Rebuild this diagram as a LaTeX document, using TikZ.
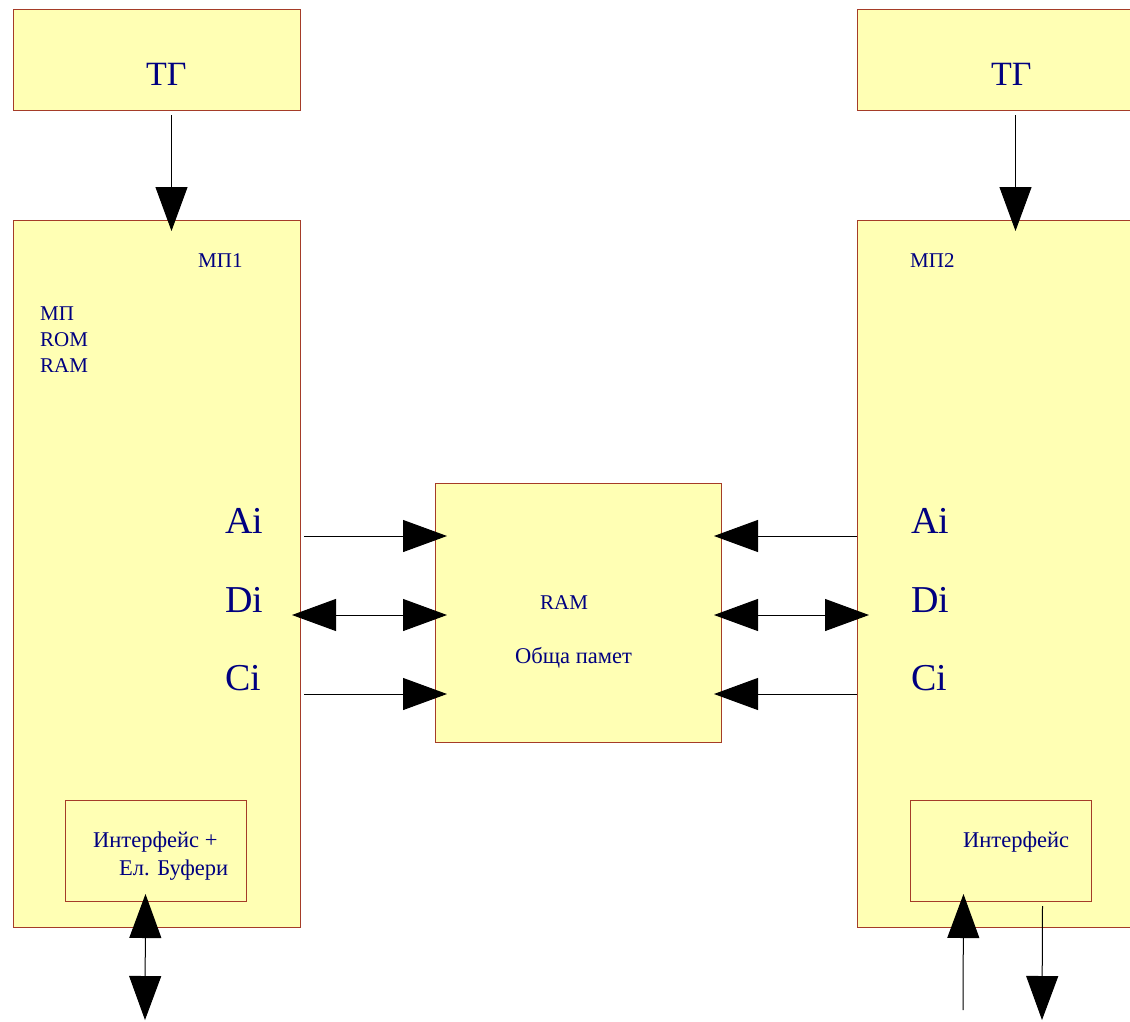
\documentclass[tikz,border=0pt]{standalone}
\usepackage{fontspec}
\setmainfont{Liberation Serif}
\usetikzlibrary{arrows.meta,calc}
\definecolor{boxfill}{RGB}{255,255,180}
\definecolor{boxline}{RGB}{165,60,40}
\definecolor{labelblue}{RGB}{0,0,128}

\begin{document}
\begin{tikzpicture}[x=1pt,y=-1pt,
  blk/.style={draw=boxline, fill=boxfill, line width=1pt, inner sep=0pt, anchor=north west},
  lbl/.style={text=labelblue, inner sep=0pt, anchor=base west, font=\fontsize{21}{25}\selectfont},
  cyrlbl/.style={lbl, font=\fontsize{22.5}{26}\selectfont},
  biglbl/.style={lbl, font=\fontsize{38}{40}\selectfont},
  tglbl/.style={lbl, font=\fontsize{34}{40}\selectfont},
  link/.style={line width=1pt, draw=black},
  >={Triangle[length=44pt,width=32pt]}
]
\useasboundingbox (0,0) rectangle (1130,1021);
\clip (0,0) rectangle (1130,1021);

% blocks
\node[blk, minimum width=287, minimum height=101] (tg1) at (13,9) {};
\node[blk, minimum width=310, minimum height=101] (tg2) at (857,9) {};
\node[blk, minimum width=287, minimum height=707] (mp1) at (13,220) {};
\node[blk, minimum width=310, minimum height=707] (mp2) at (857,220) {};
\node[blk, minimum width=286, minimum height=259] (ram) at (435,483) {};
\node[blk, minimum width=181, minimum height=101] (if1) at (65,800) {};
\node[blk, minimum width=181, minimum height=101] (if2) at (910,800) {};

% labels
\node[tglbl] (tg1txt) at (146,85) {ТГ};
\node[tglbl] (tg2txt) at (991,85) {ТГ};
\node[lbl] (mp1txt) at (198,267) {МП1};
\node[lbl] (mp2txt) at (910,267) {МП2};
\node[lbl] (mptxt)  at (40,320) {МП};
\node[lbl] (romtxt) at (40,346) {ROM};
\node[lbl] (ramtxt) at (40,372) {RAM};
\node[biglbl] (ai1) at (225,533) {Ai};
\node[biglbl] (di1) at (225,612) {Di};
\node[biglbl] (ci1) at (225,690) {Ci};
\node[biglbl] (ai2) at (911,533) {Ai};
\node[biglbl] (di2) at (911,612) {Di};
\node[biglbl] (ci2) at (911,690) {Ci};
\node[lbl] (ramname) at (540,609) {RAM};
\node[cyrlbl] (ramdesc) at (515,663) {Обща памет};
\node[cyrlbl] (if1a) at (93,847) {Интерфейс +};
\node[cyrlbl] (if1b) at (119,875) {Ел. Буфери};
\node[cyrlbl] (if2txt) at (963,847) {Интерфейс};

% bus rows
\coordinate (rowA) at (0,536);
\coordinate (rowD) at (0,615);
\coordinate (rowC) at (0,694);
\coordinate (busL) at (145,1020);
\coordinate (inR)  at (963,1010);
\coordinate (outR) at (1042,1020);

% clock lines
\draw[link,->] ($(tg1.south)+(14.5,4)$) -- ($(mp1.north)+(14.5,11)$);
\draw[link,->] ($(tg2.south)+(3,4)$) -- ($(mp2.north)+(3,11)$);

% MP1 <-> shared RAM
\draw[link,->]  ($(mp1.east |- rowA)+(3,0)$) -- ($(ram.west |- rowA)+(12,0)$);
\draw[link,<->] ($(mp1.east |- rowD)+(-9,0)$) -- ($(ram.west |- rowD)+(12,0)$);
\draw[link,->]  ($(mp1.east |- rowC)+(3,0)$) -- ($(ram.west |- rowC)+(12,0)$);

% MP2 <-> shared RAM
\draw[link,->]  (mp2.west |- rowA) -- ($(ram.east |- rowA)+(-8,0)$);
\draw[link,<->] ($(ram.east |- rowD)+(-8,0)$) -- ($(mp2.west |- rowD)+(12,0)$);
\draw[link,->]  (mp2.west |- rowC) -- ($(ram.east |- rowC)+(-8,0)$);

% external interfaces
\draw[link,<->] ($(if1.south)+(-10.5,-8)$) -- (busL);
\draw[link,->]  (inR) -- ($(if2.south)+(-37.5,-8)$);
\draw[link,->]  ($(if2.south)+(41.5,4)$) -- (outR);
\end{tikzpicture}
\end{document}
